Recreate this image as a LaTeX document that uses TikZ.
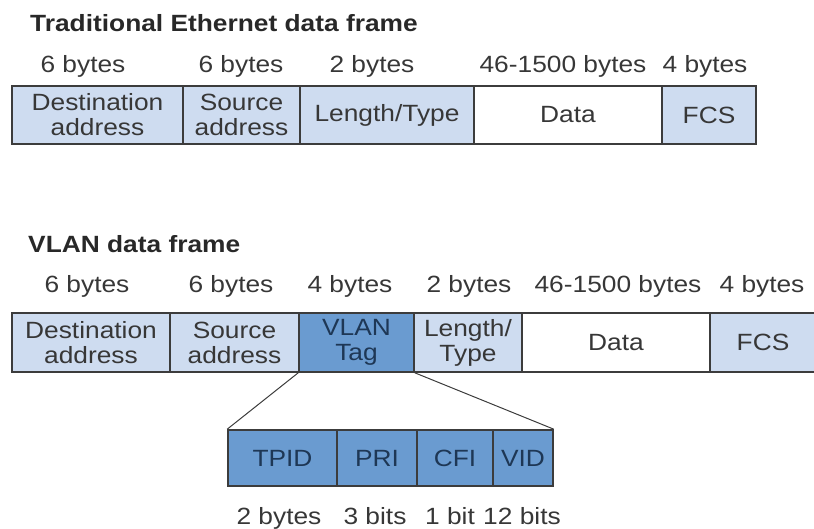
\documentclass[tikz,border=0pt]{standalone}
\usepackage{fontspec}
\setmainfont[FakeStretch=1.12]{Liberation Sans}
\definecolor{framelight}{RGB}{206,220,240}
\definecolor{tagblue}{RGB}{106,155,208}
\definecolor{edgegray}{RGB}{60,60,60}
\definecolor{textgray}{RGB}{55,55,55}
\tikzset{
    field/.style={rectangle, draw=edgegray, line width=1.6pt, fill=framelight,
        inner sep=0pt, align=center, text=textgray,
        font=\fontsize{23.5}{25}\selectfont},
    datafield/.style={field, fill=white},
    tagfield/.style={field, fill=tagblue, text={rgb,255:red,30;green,55;blue,85}},
    sizelabel/.style={anchor=base, inner sep=0pt, text=textgray,
        font=\fontsize{23.5}{25}\selectfont},
    frametitle/.style={anchor=base west, inner sep=0pt, text={rgb,255:red,40;green,40;blue,40},
        font=\fontsize{23.5}{25}\selectfont\bfseries},
}
\begin{document}
\begin{tikzpicture}[x=1pt, y=-1pt]
        \useasboundingbox (0, 0) rectangle (814, 529);

        % traditional frame
        \node[frametitle] (t1) at (30, 32) {Traditional Ethernet data frame};

        \node[sizelabel] (s1) at (83, 73) {6 bytes};
        \node[sizelabel] (s2) at (241, 73) {6 bytes};
        \node[sizelabel] (s3) at (372, 73) {2 bytes};
        \node[sizelabel] (s4) at (563, 73) {46-1500 bytes};
        \node[sizelabel] (s5) at (705, 73) {4 bytes};

        \node[field, minimum width=171, minimum height=58] (dst1) at (97.5, 115) {Destination\\address};
        \node[field, minimum width=117, minimum height=58] (src1) at (241.5, 115) {Source\\address};
        \node[field, minimum width=174, minimum height=58] (len1) at (387, 115) {Length/Type};
        \node[datafield, minimum width=188, minimum height=58] (data1) at (568, 115) {Data};
        \node[field, minimum width=94, minimum height=58] (fcs1) at (709, 115) {FCS};

        % vlan frame
        \node[frametitle] (t2) at (28, 253) {VLAN data frame};

        \node[sizelabel] (v1) at (87, 293) {6 bytes};
        \node[sizelabel] (v2) at (231, 293) {6 bytes};
        \node[sizelabel] (v3) at (350, 293) {4 bytes};
        \node[sizelabel] (v4) at (469, 293) {2 bytes};
        \node[sizelabel] (v5) at (618, 293) {46-1500 bytes};
        \node[sizelabel] (v6) at (762, 293) {4 bytes};

        \node[field, minimum width=158, minimum height=59] (dst2) at (91, 342.5) {Destination\\address};
        \node[field, minimum width=129, minimum height=59] (src2) at (234.5, 342.5) {Source\\address};
        \node[tagfield, minimum width=115, minimum height=59] (tag) at (356.5, 342.5) {VLAN\\Tag};
        \node[field, minimum width=108, minimum height=59] (len2) at (468, 342.5) {Length/\\Type};
        \node[datafield, minimum width=188, minimum height=59] (data2) at (616, 342.5) {Data};
        \node[field, minimum width=106, minimum height=59] (fcs2) at (763, 342.5) {FCS};

        % tag fields
        \node[tagfield, minimum width=109, minimum height=56] (tpid) at (282.5, 458) {TPID};
        \node[tagfield, minimum width=80, minimum height=56] (pri) at (377, 458) {PRI};
        \node[tagfield, minimum width=76, minimum height=56] (cfi) at (455, 458) {CFI};
        \node[tagfield, minimum width=60, minimum height=56] (vid) at (523, 458) {VID};

        \node[sizelabel] (b1) at (279, 524) {2 bytes};
        \node[sizelabel] (b2) at (375, 524) {3 bits};
        \node[sizelabel] (b3) at (450, 524) {1 bit};
        \node[sizelabel] (b4) at (522, 524) {12 bits};

        \draw [edgegray, line width=1pt] (tag.south west) -- (tpid.north west);
        \draw [edgegray, line width=1pt] (tag.south east) -- (vid.north east);
    \end{tikzpicture}
\end{document}
